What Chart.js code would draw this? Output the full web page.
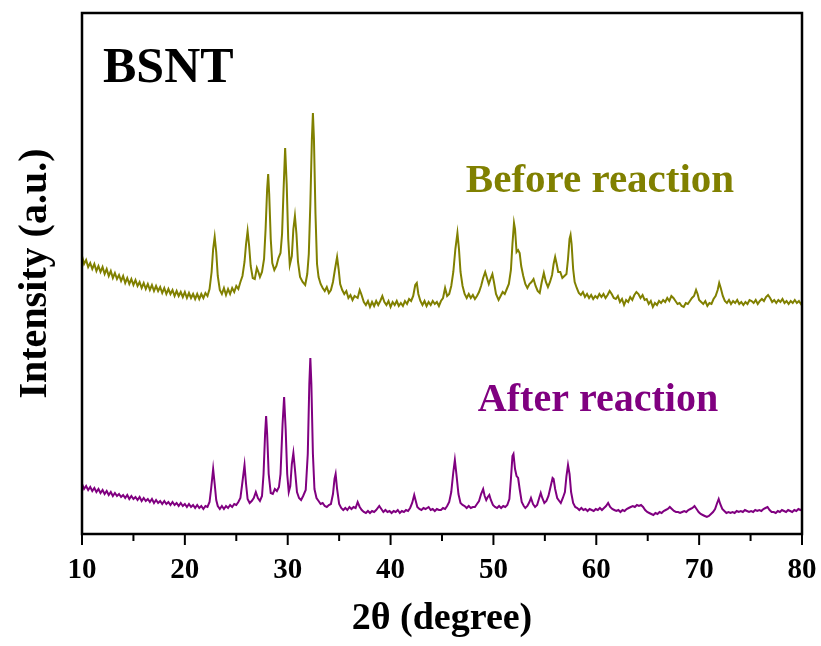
<!DOCTYPE html>
<html>
<head>
<meta charset="utf-8">
<title>BSNT XRD</title>
<script src="https://cdn.jsdelivr.net/npm/chart.js@4/dist/chart.umd.min.js"></script>
<style>
  html, body { margin: 0; padding: 0; background: #fff; }
  canvas { display: block; }
</style>
</head>
<body>
<canvas id="xrdChart" width="821" height="646"></canvas>
<script>
// 2θ (degree) / intensity (a.u.)
const beforeX = [
  10.0,10.2,10.4,10.6,10.8,11.0,11.2,11.4,11.6,11.8,12.0,12.2,12.4,12.6,12.8,13.0,13.2,13.4,13.6,13.8,
  14.0,14.2,14.4,14.6,14.8,15.0,15.2,15.4,15.6,15.8,16.0,16.2,16.4,16.6,16.8,17.0,17.2,17.4,17.6,17.8,
  18.0,18.2,18.4,18.6,18.8,19.0,19.2,19.4,19.6,19.8,20.0,20.2,20.4,20.6,20.8,21.0,21.2,21.4,21.6,21.8,
  22.0,22.2,22.4,22.6,22.75,22.9,23.05,23.2,23.4,23.6,23.8,24.0,24.2,24.4,24.6,24.8,25.0,25.2,25.4,25.6,
  25.8,25.95,26.1,26.25,26.4,26.6,26.8,27.0,27.15,27.3,27.5,27.7,27.85,28.0,28.1,28.2,28.35,28.5,28.7,28.9,
  29.1,29.3,29.45,29.6,29.75,29.9,30.05,30.2,30.4,30.55,30.7,30.85,31.0,31.2,31.45,31.7,31.9,32.05,32.2,32.35,
  32.45,32.55,32.7,32.85,33.0,33.2,33.4,33.6,33.8,34.0,34.2,34.4,34.6,34.8,34.95,35.1,35.3,35.5,35.7,35.9,
  36.1,36.3,36.5,36.8,37.0,37.15,37.4,37.6,37.8,38.0,38.2,38.4,38.6,38.8,39.0,39.2,39.4,39.6,39.8,40.0,
  40.2,40.4,40.6,40.8,41.0,41.2,41.4,41.6,41.8,42.0,42.2,42.4,42.55,42.7,42.9,43.1,43.3,43.5,43.7,43.9,
  44.1,44.3,44.5,44.7,44.9,45.1,45.3,45.5,45.7,45.9,46.1,46.3,46.5,46.65,46.8,47.0,47.2,47.4,47.6,47.8,
  48.0,48.2,48.4,48.6,48.8,49.0,49.2,49.4,49.55,49.75,49.9,50.05,50.25,50.5,50.7,50.9,51.1,51.3,51.5,51.7,
  51.85,52.0,52.1,52.25,52.4,52.55,52.7,52.9,53.1,53.3,53.5,53.7,53.9,54.1,54.3,54.5,54.7,54.9,55.1,55.3,
  55.5,55.7,55.85,56.0,56.15,56.3,56.5,56.7,56.9,57.1,57.25,57.4,57.5,57.6,57.75,57.9,58.1,58.3,58.5,58.7,
  58.9,59.1,59.3,59.5,59.7,59.9,60.1,60.3,60.5,60.7,60.9,61.1,61.3,61.5,61.7,61.9,62.1,62.3,62.5,62.7,
  62.9,63.1,63.3,63.5,63.7,63.9,64.1,64.3,64.5,64.7,64.9,65.1,65.3,65.5,65.7,65.9,66.1,66.3,66.5,66.7,
  66.9,67.1,67.3,67.5,67.7,67.9,68.1,68.3,68.5,68.7,68.9,69.1,69.3,69.5,69.7,69.85,70.0,70.2,70.4,70.6,
  70.8,71.0,71.2,71.4,71.6,71.8,71.95,72.1,72.3,72.5,72.7,72.9,73.1,73.3,73.5,73.7,73.9,74.1,74.3,74.5,
  74.7,74.9,75.1,75.3,75.5,75.7,75.9,76.1,76.3,76.5,76.7,76.9,77.1,77.3,77.5,77.7,77.9,78.1,78.3,78.5,
  78.7,78.9,79.1,79.3,79.5,79.7,79.9,80.0
];
const beforeY = [
  278,270,274,267,271,265,270,263,268,262,267,260,265,258,263,256,261,255,259,253,
  258,251,256,250,255,249,254,248,252,246,251,245,250,244,249,243,248,243,247,241,
  246,240,245,240,244,238,243,238,242,237,242,236,241,236,240,235,240,235,240,236,
  241,238,245,262,285,297,282,258,244,240,246,239,245,240,246,242,248,245,252,258,
  272,290,303,288,268,256,255,266,262,257,262,275,305,345,360,340,295,271,264,268,
  276,281,300,345,386,350,295,269,278,305,318,300,272,257,252,249,260,280,330,395,
  421,395,320,270,257,250,246,243,247,241,244,252,265,277,265,250,244,240,243,236,
  239,234,238,236,244,240,232,229,233,227,232,228,233,229,233,238,232,229,233,227,
  232,229,233,228,231,228,233,230,235,233,238,249,251,240,233,229,233,228,232,229,
  233,230,232,228,233,236,246,238,240,248,262,285,301,285,262,248,240,236,240,236,
  239,235,238,242,248,256,262,255,250,256,260,252,240,234,238,242,240,245,250,264,
  290,311,305,282,284,281,268,258,250,246,250,252,255,248,243,241,252,261,252,247,
  252,259,270,277,270,262,262,256,258,260,275,295,299,290,265,252,246,241,239,242,
  237,240,236,239,235,238,236,240,237,240,236,239,243,240,236,235,238,232,235,229,
  234,232,237,234,239,242,240,236,239,234,235,230,233,227,231,229,233,231,234,232,
  236,233,238,236,233,230,231,228,227,231,230,233,236,238,244,240,234,232,230,233,
  228,231,230,235,238,244,251,246,238,233,231,234,230,233,231,234,230,232,229,232,
  230,234,233,231,234,230,233,235,233,237,239,236,232,234,231,234,232,235,231,233,
  230,233,231,234,231,233,230,232
];

const afterX = [
  10.0,10.2,10.4,10.6,10.8,11.0,11.2,11.4,11.6,11.8,12.0,12.2,12.4,12.6,12.8,13.0,13.2,13.4,13.6,13.8,
  14.0,14.2,14.4,14.6,14.8,15.0,15.2,15.4,15.6,15.8,16.0,16.2,16.4,16.6,16.8,17.0,17.2,17.4,17.6,17.8,
  18.0,18.2,18.4,18.6,18.8,19.0,19.2,19.4,19.6,19.8,20.0,20.2,20.4,20.6,20.8,21.0,21.2,21.4,21.6,21.8,
  22.0,22.2,22.4,22.55,22.75,22.9,23.05,23.2,23.4,23.6,23.8,24.0,24.2,24.4,24.6,24.8,25.0,25.2,25.4,25.55,
  25.8,25.95,26.1,26.3,26.5,26.7,26.9,27.1,27.3,27.5,27.65,27.8,27.9,28.0,28.15,28.35,28.55,28.75,28.95,29.15,
  29.3,29.5,29.65,29.8,29.95,30.1,30.25,30.4,30.55,30.7,30.9,31.1,31.3,31.5,31.75,31.95,32.1,32.2,32.3,32.45,
  32.6,32.8,33.0,33.2,33.4,33.6,33.8,34.0,34.2,34.4,34.55,34.66,34.8,35.0,35.2,35.4,35.6,35.8,36.0,36.2,
  36.4,36.6,36.8,37.0,37.2,37.4,37.6,37.8,38.0,38.2,38.4,38.6,38.9,39.1,39.3,39.5,39.7,39.9,40.1,40.3,
  40.5,40.7,40.9,41.1,41.3,41.5,41.7,41.9,42.1,42.3,42.45,42.6,42.8,43.0,43.2,43.4,43.7,43.9,44.1,44.3,
  44.5,44.7,44.9,45.1,45.3,45.5,45.7,45.9,46.1,46.25,46.4,46.6,46.8,47.0,47.2,47.4,47.6,47.8,48.0,48.2,
  48.4,48.6,48.8,49.0,49.15,49.3,49.45,49.6,49.75,49.95,50.15,50.35,50.55,50.75,50.95,51.15,51.35,51.55,51.7,51.85,
  51.95,52.1,52.25,52.4,52.55,52.75,52.95,53.1,53.3,53.5,53.65,53.85,54.05,54.25,54.45,54.6,54.75,54.95,55.15,55.35,
  55.55,55.75,55.85,56.0,56.2,56.4,56.55,56.75,56.95,57.1,57.25,57.4,57.55,57.75,57.95,58.15,58.35,58.55,58.75,58.95,
  59.15,59.35,59.55,59.75,59.95,60.15,60.35,60.55,60.75,60.95,61.15,61.35,61.55,61.75,61.95,62.15,62.35,62.55,62.75,62.95,
  63.15,63.35,63.55,63.75,63.95,64.15,64.35,64.55,64.75,64.95,65.15,65.35,65.55,65.75,65.95,66.15,66.35,66.55,66.75,66.95,
  67.15,67.35,67.55,67.75,67.95,68.15,68.35,68.55,68.75,68.95,69.15,69.35,69.55,69.75,69.95,70.15,70.35,70.55,70.75,70.95,
  71.15,71.35,71.55,71.75,71.9,72.05,72.25,72.45,72.65,72.85,73.05,73.25,73.45,73.65,73.85,74.05,74.25,74.45,74.65,74.85,
  75.05,75.25,75.45,75.65,75.85,76.05,76.25,76.45,76.65,76.85,77.05,77.25,77.45,77.65,77.85,78.05,78.25,78.45,78.65,78.85,
  79.05,79.25,79.45,79.65,79.85,80.0
];
const afterY = [
  50,45,48,44,47,43,46,42,45,41,44,40,43,39,42,38,41,38,40,37,
  39,36,39,35,38,35,37,34,37,33,36,33,35,32,35,31,34,31,33,30,
  33,30,32,29,32,29,31,28,31,28,30,27,30,27,29,26,29,26,28,25,
  28,27,32,45,65,50,34,28,25,28,25,28,26,29,27,30,29,32,36,48,
  69,50,35,31,33,36,42,36,33,38,60,100,118,100,60,41,40,45,43,47,
  60,110,137,105,60,42,48,70,81,65,42,36,34,38,44,80,150,176,150,80,
  45,36,33,30,31,28,27,29,30,40,55,60,45,30,26,24,26,24,27,25,
  27,26,32,27,24,22,21,23,21,23,22,24,28,25,22,24,22,23,21,23,
  22,24,21,23,22,24,23,26,31,39,33,27,25,24,26,25,27,24,25,23,
  25,24,24,26,25,28,32,42,62,74,60,40,31,29,28,26,28,26,27,27,
  30,33,40,45,38,34,37,39,34,29,27,26,28,26,28,27,29,35,55,78,
  80,65,58,56,45,32,28,26,28,32,36,30,27,29,36,41,36,31,33,38,
  47,56,55,45,36,33,31,36,42,58,69,60,42,31,27,26,24,26,24,25,
  23,25,24,23,25,24,26,24,26,28,31,27,25,24,23,24,22,24,23,25,
  26,27,28,27,29,28,29,27,24,22,21,20,19,21,20,22,21,23,24,25,
  27,25,23,22,22,21,22,23,22,24,25,26,28,25,22,20,19,18,17,18,
  20,22,25,31,35,30,25,23,21,22,21,22,21,23,22,23,22,24,23,22,
  23,22,24,23,24,23,25,26,27,24,22,22,21,23,22,24,23,22,24,23,
  22,24,23,25,24,25
];

const xTicks = [10, 20, 30, 40, 50, 60, 70, 80];
const seriesLabels = ['Before reaction', 'After reaction'];

const OLIVE = '#808000';
const PURPLE = '#800080';
const SERIF = '"Liberation Serif", "Times New Roman", Times, serif';

const toPoints = (xs, ys) => xs.map((x, i) => ({ x: x, y: ys[i] }));

// frame + major/minor ticks + text labels
const framePlugin = {
  id: 'frame',
  afterDraw(chart) {
    const { ctx, chartArea: a, scales } = chart;
    ctx.save();
    ctx.strokeStyle = '#000';
    ctx.lineWidth = 2.5;
    ctx.strokeRect(a.left, a.top, a.right - a.left, a.bottom - a.top);

    ctx.lineWidth = 2;
    scales.x.ticks.forEach(t => {
      const px = scales.x.getPixelForValue(t.value);
      const len = xTicks.includes(t.value) ? 11 : 7;
      ctx.beginPath();
      ctx.moveTo(px, a.bottom);
      ctx.lineTo(px, a.bottom + len);
      ctx.stroke();
    });

    ctx.textBaseline = 'alphabetic';
    ctx.fillStyle = '#000';
    ctx.font = 'bold 50px ' + SERIF;
    ctx.textAlign = 'left';
    ctx.fillText('BSNT', 103, 82);

    ctx.textAlign = 'center';
    ctx.font = 'bold 41px ' + SERIF;
    ctx.fillStyle = OLIVE;
    ctx.fillText(seriesLabels[0], 600, 192);
    ctx.font = 'bold 40px ' + SERIF;
    ctx.fillStyle = PURPLE;
    ctx.fillText(seriesLabels[1], 598, 411);
    ctx.restore();
  }
};

new Chart(document.getElementById('xrdChart'), {
  type: 'line',
  data: {
    datasets: [
      {
        label: seriesLabels[0],
        data: toPoints(beforeX, beforeY),
        borderColor: OLIVE,
        borderWidth: 2,
        pointRadius: 0,
        tension: 0
      },
      {
        label: seriesLabels[1],
        data: toPoints(afterX, afterY),
        borderColor: PURPLE,
        borderWidth: 2,
        pointRadius: 0,
        tension: 0
      }
    ]
  },
  options: {
    responsive: false,
    animation: false,
    devicePixelRatio: 1,
    layout: { padding: { top: 13, right: 19, left: 0, bottom: 0 } },
    plugins: { legend: { display: false }, tooltip: { enabled: false } },
    scales: {
      x: {
        type: 'linear',
        min: 10,
        max: 80,
        grid: { display: false, drawTicks: true, tickLength: 11 },
        border: { display: false },
        ticks: {
          stepSize: 5,
          padding: 8,
          maxRotation: 0,
          autoSkip: false,
          color: '#000',
          font: { family: SERIF, size: 29, weight: 'bold' },
          callback: v => (xTicks.includes(v) ? v : '')
        },
        title: {
          display: true,
          text: '2θ (degree)',
          color: '#000',
          font: { family: SERIF, size: 38, weight: 'bold' },
          padding: { top: 0, bottom: 4 }
        },
        afterFit: s => {
          s.height = 112;
          s.paddingLeft = 0;
          s.paddingRight = 0;
        }
      },
      y: {
        min: 0,
        max: 521,
        grid: { display: false, drawTicks: false },
        border: { display: false },
        ticks: { display: false },
        title: {
          display: true,
          text: 'Intensity (a.u.)',
          color: '#000',
          font: { family: SERIF, size: 40, weight: 'bold' },
          padding: { top: 12, bottom: 0 }
        },
        afterFit: s => { s.width = 82; }
      }
    }
  },
  plugins: [framePlugin]
});
</script>
</body>
</html>
